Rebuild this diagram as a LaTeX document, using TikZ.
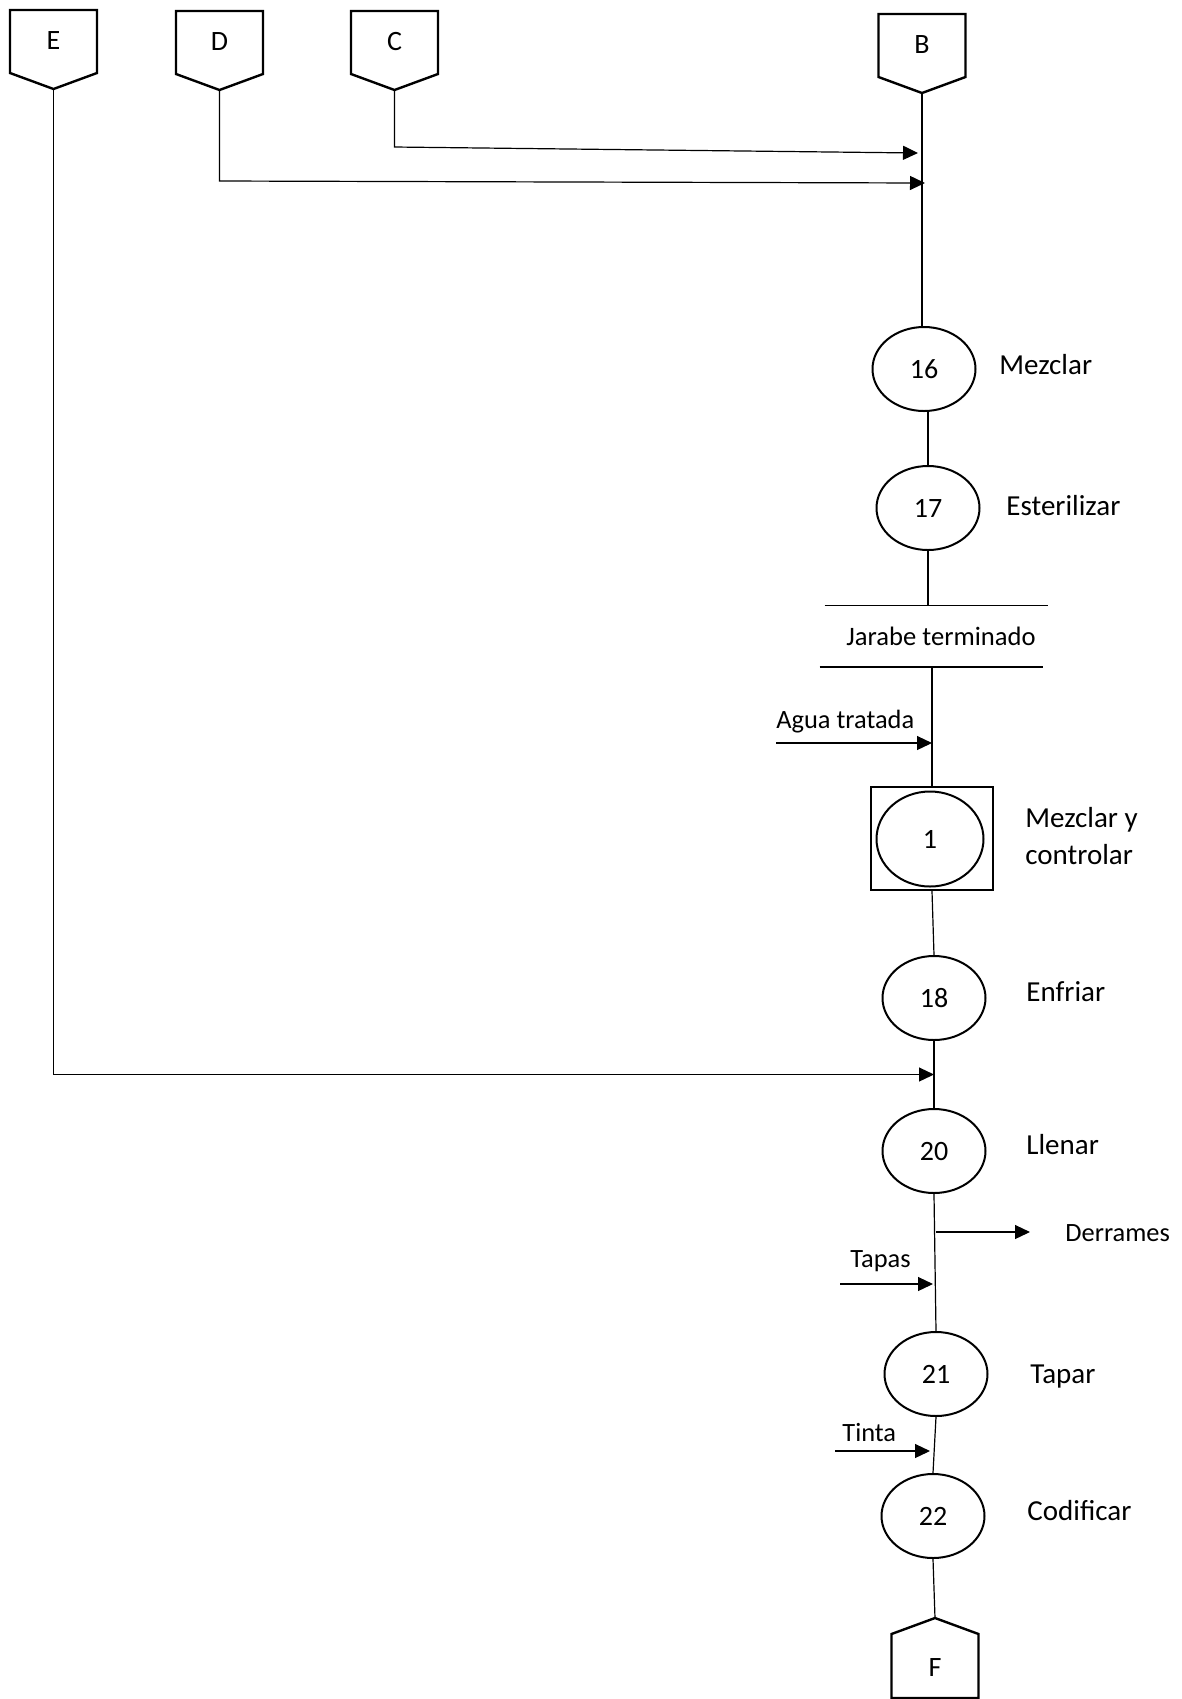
\documentclass[tikz,border=0pt]{standalone}
\usepackage{fontspec}
\setmainfont{Carlito}
\usetikzlibrary{shapes.geometric,arrows.meta,calc}

% off-page connector pointing down: name, centre x, top y, letter
\newcommand\offdown[4]{%
  \draw[pent] ({#2-43.5},#3) -- ({#2+43.5},#3) -- ({#2+43.5},{#3+63})
    -- (#2,{#3+79}) -- ({#2-43.5},{#3+63}) -- cycle;
  \node[letter] (#1) at (#2,{#3+31}) {#4};
  \coordinate (#1-tip) at (#2,{#3+79});}
% off-page connector pointing up: name, centre x, bottom y, letter
\newcommand\offup[4]{%
  \draw[pent] ({#2-43.5},#3) -- ({#2+43.5},#3) -- ({#2+43.5},{#3-64})
    -- (#2,{#3-80}) -- ({#2-43.5},{#3-64}) -- cycle;
  \node[letter] (#1) at (#2,{#3-31}) {#4};
  \coordinate (#1-tip) at (#2,{#3-80});}

\begin{document}
\begin{tikzpicture}[x=0.5pt,y=-0.5pt,
  flow/.style={line width=0.6pt},
  inflow/.style={line width=0.6pt,-{Triangle[length=7.5pt,width=7pt]}},
  opcircle/.style={ellipse,draw,line width=1pt,minimum width=51.5pt,
    minimum height=42pt,inner sep=0pt,font=\fontsize{14pt}{16pt}\selectfont},
  pent/.style={draw,line width=1.2pt,line join=miter},
  letter/.style={font=\fontsize{14pt}{16pt}\selectfont,inner sep=0pt},
  steplabel/.style={anchor=west,inner sep=0pt,align=left,
    font=\fontsize{14.5pt}{18.5pt}\selectfont},
  sidelabel/.style={anchor=west,inner sep=0pt,font=\fontsize{13.2pt}{16pt}\selectfont},
  store/.style={minimum width=111.5pt,minimum height=30.5pt,inner sep=0pt,
    font=\fontsize{13.3pt}{16pt}\selectfont}]

\useasboundingbox (0,0) rectangle (1182,1699);

% connectors
\offdown{E}{53.5}{10}{E}
\offdown{D}{219.5}{11}{D}
\offdown{C}{394.5}{11}{C}
\offdown{B}{922}{14}{B}
\offup{F}{935}{1698}{F}

% operations
\node[opcircle] (n16) at (924,369) {16};
\node[opcircle] (n17) at (928,508) {17};
\node[store] (jarabe) at (941,636) {Jarabe terminado};
\node[draw,line width=1pt,minimum width=61pt,minimum height=51.5pt,inner sep=0pt]
  (c1box) at (932,838.5) {};
\node[opcircle,minimum width=53.5pt,minimum height=47.5pt] (c1) at (930,839) {1};
\node[opcircle] (n18) at (934,998) {18};
\node[opcircle] (n20) at (934,1151) {20};
\node[opcircle] (n21) at (936,1374) {21};
\node[opcircle] (n22) at (933,1516) {22};

% storage lines
\draw[flow] ([xshift=-2.25pt]jarabe.north west) -- ([xshift=-2.25pt]jarabe.north east);
\draw[flow] ([xshift=-4.75pt]jarabe.south west) -- ([xshift=-4.75pt]jarabe.south east);

% step labels
\node[steplabel] (l16) at (999,365) {Mezclar};
\node[steplabel] (l17) at (1006,506) {Esterilizar};
\node[steplabel] (l1) at (1025,836.5) {Mezclar y\\controlar};
\node[steplabel] (l18) at (1026,992) {Enfriar};
\node[steplabel] (l20) at (1026,1145) {Llenar};
\node[steplabel] (l21) at (1030,1377) {Tapar};
\node[steplabel] (l22) at (1027,1511) {Codificar};

% side labels
\node[sidelabel] (lagua) at (776,722) {Agua tratada};
\node[sidelabel] (lder) at (1065,1233) {Derrames};
\node[sidelabel] (ltapas) at (850,1261) {Tapas};
\node[sidelabel] (ltinta) at (842,1432) {Tinta};

% main line
\draw[flow] (B-tip) -- (B-tip |- n16.north);
\draw[flow] (n17.north |- n16.south) -- (n17.north);
\draw[flow] (n17.south) -- (n17.south |- jarabe.north);
\draw[flow] (c1box.north |- jarabe.south) -- (c1box.north);
\draw[flow] (c1box.south) -- (n18.north);
\draw[flow] (n18.south) -- (n20.north);
\draw[flow] (n20.south) -- (n21.north);
\draw[flow] (n21.south) -- (n22.north);
\draw[flow] (n22.south) -- (F-tip);

% incoming branches
\coordinate (cCorner) at (394.5,147);
\coordinate (cIn) at (918,153);
\draw[inflow] (C-tip) -- (cCorner) -- (cIn);
\coordinate (dCorner) at (219.5,181);
\coordinate (dIn) at (925,183);
\draw[inflow] (D-tip) -- (dCorner) -- (dIn);
\coordinate (eJoin) at ($(n18.south)!0.5!(n20.north)$);
\draw[inflow] (E-tip) |- (eJoin);

\coordinate (aguaIn) at (776,743);
\draw[inflow] (aguaIn) -- (aguaIn -| c1box.north);
\coordinate (tapasIn) at (840,1284);
\draw[inflow] (tapasIn) -- (tapasIn -| n22.north);
\coordinate (tintaIn) at (835,1451);
\draw[inflow] (tintaIn) -- (930,1451);

% outgoing spill
\coordinate (derOut) at (936,1232);
\coordinate (derEnd) at (1030,1232);
\draw[inflow] (derOut) -- (derEnd);
\end{tikzpicture}
\end{document}
